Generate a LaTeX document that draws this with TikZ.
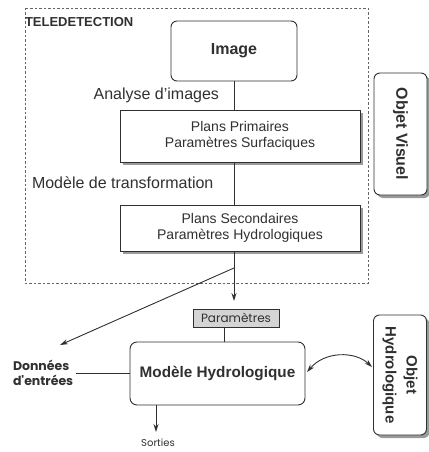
\documentclass[tikz,border=0pt]{standalone}
\usepackage{fontspec}
\setmainfont{Liberation Sans}
\newfontfamily\geo{Poppins}
\usetikzlibrary{arrows.meta,shadows}
\definecolor{ink}{HTML}{303030}
\definecolor{shade}{HTML}{9A9A9A}
\definecolor{paramfill}{HTML}{D4D4D4}
\begin{document}
\begin{tikzpicture}[x=1pt,y=-1pt,
  line width=0.9pt, draw=ink, text=ink,
  every node/.style={inner sep=0pt, outer sep=0pt},
  tip/.style={-{Stealth[length=8pt,width=5pt]}},
  rbox/.style={draw=ink, rounded corners=6pt, fill=white},
  sbox/.style={draw=ink, fill=white, drop shadow={shadow xshift=3pt, shadow yshift=-3pt, fill=shade, opacity=1}},
  srbox/.style={draw=ink, fill=white, rounded corners=6pt, drop shadow={shadow xshift=3pt, shadow yshift=-3pt, fill=shade, opacity=1}},
  lbl/.style={font=\fontsize{16}{18}\selectfont},
  ilbl/.style={font=\fontsize{14}{16}\selectfont, align=center},
  glbl/.style={font=\geo\fontsize{12}{14}\selectfont}
]
\useasboundingbox (0,0) rectangle (428,452);

% dashed frame
\draw[draw=black!60, line width=0.7pt, dash pattern=on 2.5pt off 2pt] (25,8) rectangle (368,283);
\node[anchor=west, font=\bfseries\fontsize{13}{15}\selectfont] (tele) at (25,22) {TELEDETECTION};

% boxes
\node[rbox, minimum width=126pt, minimum height=60pt, font=\bfseries\fontsize{16}{18}\selectfont] (img) at (234,51) {Image};
\node[sbox, minimum width=240pt, minimum height=52pt, ilbl] (prim) at (240,136) {Plans Primaires\\Paramètres Surfaciques};
\node[sbox, minimum width=240pt, minimum height=46pt, ilbl] (sec) at (240,228) {Plans Secondaires\\Paramètres Hydrologiques};

\node[lbl, anchor=east] (ana) at (219,95) {Analyse d'images};
\node[lbl, anchor=west] (trans) at (32,183) {Modèle de transformation};

\draw (img.south) -- (img.south |- prim.north);
\draw (prim.south -| img.south) -- (sec.north -| img.south);

\coordinate (ptip) at (234,301);
\coordinate (split) at (234,268);
\draw[tip] (sec.south -| img.south) -- (ptip);

% parametres
\node[draw=ink, fill=paramfill, minimum width=86pt, minimum height=18pt, glbl] (param) at (236,318) {Paramètres};

% modele hydrologique
\node[rbox, rounded corners=7pt, minimum width=175pt, minimum height=63pt, font=\bfseries\fontsize{15.3}{17}\selectfont] (mod) at (217.5,373.5) {Modèle Hydrologique};
\coordinate (pl) at (224,0);
\draw (param.south -| pl) -- (mod.north -| pl);

% donnees
\node[align=left, font=\geo\bfseries\fontsize{12.5}{15}\selectfont, anchor=west] (don) at (13,373) {Données\\d'entrées};
\draw (don.east) ++(3pt,0) -- (mod.west |- don.east);
\coordinate (dtip) at (60,345);
\draw[tip] (split) -- (dtip);

% sorties
\coordinate (stip) at (156,432);
\draw[tip] (mod.south -| stip) -- (stip);
\node[font=\geo\fontsize{10}{11}\selectfont] (sort) at (158,443) {Sorties};

% objet boxes
\node[srbox, minimum width=53pt, minimum height=122pt] (ov) at (400.5,134) {};
\node[rotate=-90, font=\bfseries\fontsize{16}{18}\selectfont] (ovt) at (ov.center) {Objet Visuel};
\node[srbox, minimum width=53pt, minimum height=120pt] (oh) at (400,375) {};
\node[rotate=-90, align=center, font=\bfseries\fontsize{15}{21}\selectfont] (oht) at (oh.center) {Objet\\Hydrologique};

% double curved arrow
\coordinate (ca) at (307,372);
\coordinate (cb) at (372,367);
\draw[{Stealth[length=8pt,width=5pt]}-{Stealth[length=8pt,width=5pt]}] (ca) .. controls (325,351) and (355,351) .. (cb);
\end{tikzpicture}
\end{document}
